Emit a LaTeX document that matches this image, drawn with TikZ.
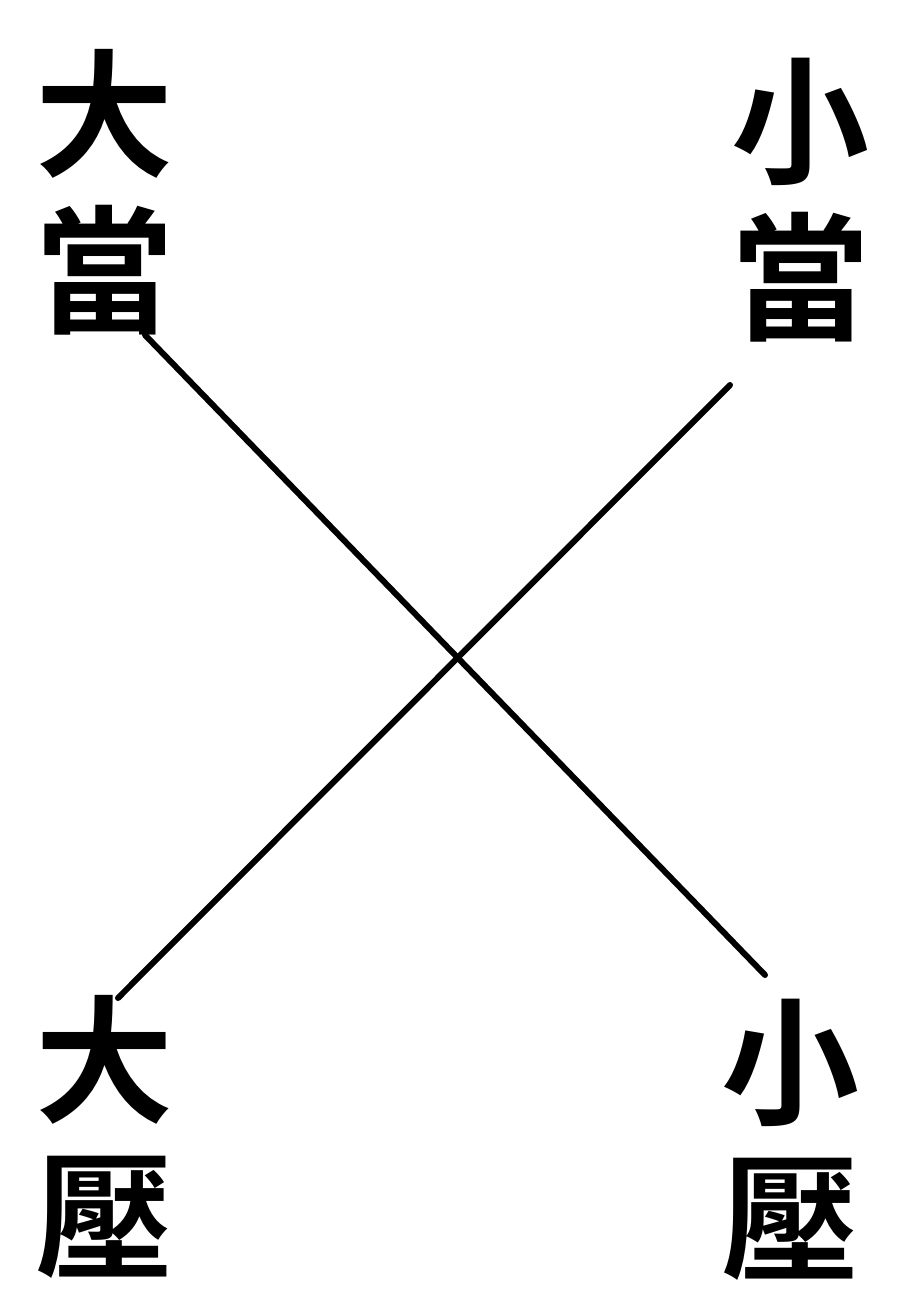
\documentclass[tikz,border=0pt]{standalone}
\usepackage{fontspec}
\newfontfamily\cjk{Noto Sans CJK TC}[BoldFont={Noto Sans CJK TC Bold}]
\begin{document}
\begin{tikzpicture}[x=1pt,y=-1pt,
  lbl/.style={font=\cjk\bfseries\fontsize{138}{156}\selectfont, align=center, inner sep=0pt, anchor=center},
  ln/.style={line width=6pt, black, line cap=round}]
\useasboundingbox (0,0) rectangle (898,1297);
\node[lbl] (dadang) at (104,192) {大\\當};
\node[lbl] (xiaodang) at (800,200) {小\\當};
\node[lbl] (daya) at (104,1137) {大\\壓};
\node[lbl] (xiaoya) at (790,1140) {小\\壓};
\coordinate (a1) at (145,335);
\coordinate (a2) at (765,975);
\coordinate (b1) at (730,385);
\coordinate (b2) at (118,998);
\draw[ln] (a1) -- (a2);
\draw[ln] (b1) -- (b2);
\end{tikzpicture}
\end{document}
